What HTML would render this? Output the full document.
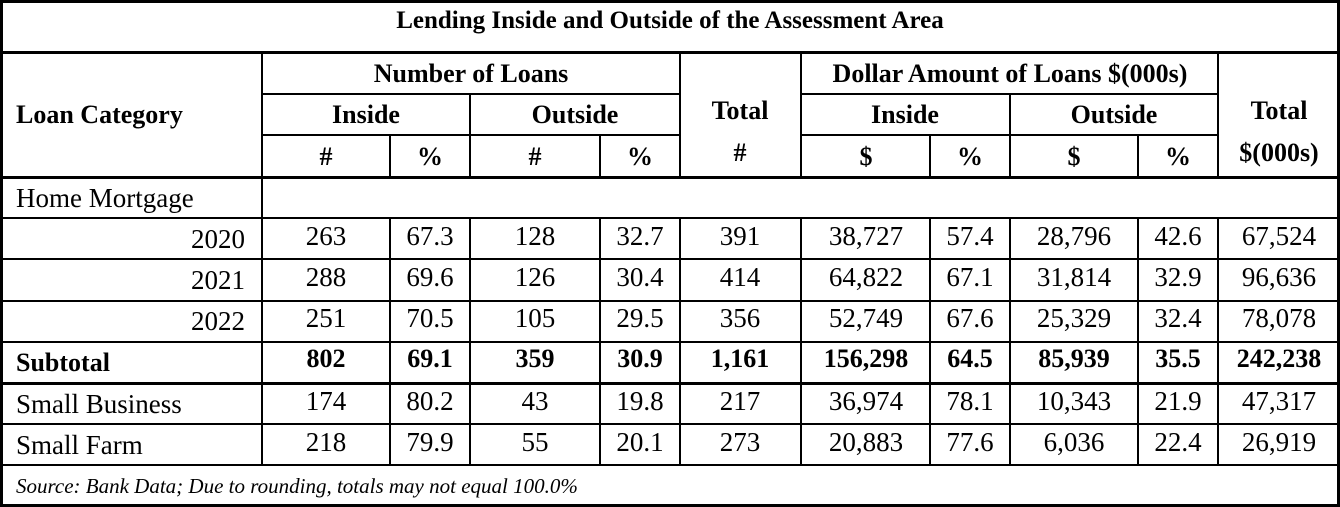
<!DOCTYPE html>
<html><head><meta charset="utf-8"><style>
html,body{margin:0;padding:0;background:#fff;}
body{width:1340px;height:507px;position:relative;overflow:hidden;font-family:"Liberation Serif","Times New Roman",serif;color:#000;}
.l{position:absolute;background:#000;}
.t{position:absolute;white-space:nowrap;font-size:27px;line-height:30px;font-family:"Liberation Serif","Times New Roman",serif;}
.c{transform:translateX(-50%);}
.r{transform:translateX(-100%);}
.b{font-weight:bold;font-size:26px;}
</style></head><body>
<!-- border -->
<div class="l" style="left:0;top:0;width:1340px;height:3px"></div>
<div class="l" style="left:0;top:504px;width:1340px;height:3px"></div>
<div class="l" style="left:0;top:0;width:3px;height:507px"></div>
<div class="l" style="left:1337px;top:0;width:3px;height:507px"></div>
<!-- horizontals -->
<div class="l" style="left:0;top:51px;width:1340px;height:3px"></div>
<div class="l" style="left:262px;top:93px;width:418px;height:2px"></div>
<div class="l" style="left:801px;top:93px;width:417px;height:2px"></div>
<div class="l" style="left:262px;top:134px;width:418px;height:2px"></div>
<div class="l" style="left:801px;top:134px;width:417px;height:2px"></div>
<div class="l" style="left:0;top:176px;width:1340px;height:3px"></div>
<div class="l" style="left:0;top:217px;width:1340px;height:2px"></div>
<div class="l" style="left:0;top:258px;width:1340px;height:2px"></div>
<div class="l" style="left:0;top:300px;width:1340px;height:2px"></div>
<div class="l" style="left:0;top:341px;width:1340px;height:2px"></div>
<div class="l" style="left:0;top:382px;width:1340px;height:3px"></div>
<div class="l" style="left:0;top:423px;width:1340px;height:2px"></div>
<div class="l" style="left:0;top:464px;width:1340px;height:2px"></div>
<!-- verticals -->
<div class="l" style="left:261px;top:52px;width:2px;height:413px"></div>
<div class="l" style="left:679px;top:52px;width:2px;height:125px"></div>
<div class="l" style="left:800px;top:52px;width:2px;height:125px"></div>
<div class="l" style="left:1217px;top:52px;width:2px;height:125px"></div>
<div class="l" style="left:469px;top:94px;width:2px;height:83px"></div>
<div class="l" style="left:1009px;top:94px;width:2px;height:83px"></div>
<div class="l" style="left:389px;top:135px;width:2px;height:42px"></div>
<div class="l" style="left:599px;top:135px;width:2px;height:42px"></div>
<div class="l" style="left:929px;top:135px;width:2px;height:42px"></div>
<div class="l" style="left:1137px;top:135px;width:2px;height:42px"></div>
<div class="l" style="left:389px;top:218px;width:2px;height:247px"></div>
<div class="l" style="left:469px;top:218px;width:2px;height:247px"></div>
<div class="l" style="left:599px;top:218px;width:2px;height:247px"></div>
<div class="l" style="left:679px;top:218px;width:2px;height:247px"></div>
<div class="l" style="left:800px;top:218px;width:2px;height:247px"></div>
<div class="l" style="left:929px;top:218px;width:2px;height:247px"></div>
<div class="l" style="left:1009px;top:218px;width:2px;height:247px"></div>
<div class="l" style="left:1137px;top:218px;width:2px;height:247px"></div>
<div class="l" style="left:1217px;top:218px;width:2px;height:247px"></div>

<div class="t c b" style="left:670px;top:6px;font-size:25px">Lending Inside and Outside of the Assessment Area</div>
<div class="t b" style="left:16px;top:100px">Loan Category</div>
<div class="t c b" style="left:471px;top:59px">Number of Loans</div>
<div class="t c b" style="left:366px;top:100px">Inside</div>
<div class="t c b" style="left:575px;top:100px">Outside</div>
<div class="t c b" style="left:740px;top:96px">Total</div>
<div class="t c b" style="left:740px;top:138px">#</div>
<div class="t c b" style="left:1010px;top:59px">Dollar Amount of Loans $(000s)</div>
<div class="t c b" style="left:905px;top:100px">Inside</div>
<div class="t c b" style="left:1114px;top:100px">Outside</div>
<div class="t c b" style="left:1279px;top:96px">Total</div>
<div class="t c b" style="left:1279px;top:138px">$(000s)</div>
<div class="t c b" style="left:326px;top:142px">#</div>
<div class="t c b" style="left:430px;top:142px">%</div>
<div class="t c b" style="left:535px;top:142px">#</div>
<div class="t c b" style="left:640px;top:142px">%</div>
<div class="t c b" style="left:866px;top:142px">$</div>
<div class="t c b" style="left:970px;top:142px">%</div>
<div class="t c b" style="left:1074px;top:142px">$</div>
<div class="t c b" style="left:1178px;top:142px">%</div>

<div class="t" style="left:16px;top:183px">Home Mortgage</div>

<div class="t r" style="left:245px;top:224px">2020</div>
<div class="t c" style="left:326px;top:221px">263</div><div class="t c" style="left:430px;top:221px">67.3</div><div class="t c" style="left:535px;top:221px">128</div><div class="t c" style="left:640px;top:221px">32.7</div><div class="t c" style="left:740px;top:221px">391</div><div class="t c" style="left:866px;top:221px">38,727</div><div class="t c" style="left:970px;top:221px">57.4</div><div class="t c" style="left:1074px;top:221px">28,796</div><div class="t c" style="left:1178px;top:221px">42.6</div><div class="t c" style="left:1279px;top:221px">67,524</div>

<div class="t r" style="left:245px;top:265px">2021</div>
<div class="t c" style="left:326px;top:262px">288</div><div class="t c" style="left:430px;top:262px">69.6</div><div class="t c" style="left:535px;top:262px">126</div><div class="t c" style="left:640px;top:262px">30.4</div><div class="t c" style="left:740px;top:262px">414</div><div class="t c" style="left:866px;top:262px">64,822</div><div class="t c" style="left:970px;top:262px">67.1</div><div class="t c" style="left:1074px;top:262px">31,814</div><div class="t c" style="left:1178px;top:262px">32.9</div><div class="t c" style="left:1279px;top:262px">96,636</div>

<div class="t r" style="left:245px;top:306px">2022</div>
<div class="t c" style="left:326px;top:303px">251</div><div class="t c" style="left:430px;top:303px">70.5</div><div class="t c" style="left:535px;top:303px">105</div><div class="t c" style="left:640px;top:303px">29.5</div><div class="t c" style="left:740px;top:303px">356</div><div class="t c" style="left:866px;top:303px">52,749</div><div class="t c" style="left:970px;top:303px">67.6</div><div class="t c" style="left:1074px;top:303px">25,329</div><div class="t c" style="left:1178px;top:303px">32.4</div><div class="t c" style="left:1279px;top:303px">78,078</div>

<div class="t b" style="left:16px;top:348px">Subtotal</div>
<div class="t c b" style="left:326px;top:344px">802</div><div class="t c b" style="left:430px;top:344px">69.1</div><div class="t c b" style="left:535px;top:344px">359</div><div class="t c b" style="left:640px;top:344px">30.9</div><div class="t c b" style="left:740px;top:344px">1,161</div><div class="t c b" style="left:866px;top:344px">156,298</div><div class="t c b" style="left:970px;top:344px">64.5</div><div class="t c b" style="left:1074px;top:344px">85,939</div><div class="t c b" style="left:1178px;top:344px">35.5</div><div class="t c b" style="left:1279px;top:344px">242,238</div>

<div class="t" style="left:16px;top:389px">Small Business</div>
<div class="t c" style="left:326px;top:386px">174</div><div class="t c" style="left:430px;top:386px">80.2</div><div class="t c" style="left:535px;top:386px">43</div><div class="t c" style="left:640px;top:386px">19.8</div><div class="t c" style="left:740px;top:386px">217</div><div class="t c" style="left:866px;top:386px">36,974</div><div class="t c" style="left:970px;top:386px">78.1</div><div class="t c" style="left:1074px;top:386px">10,343</div><div class="t c" style="left:1178px;top:386px">21.9</div><div class="t c" style="left:1279px;top:386px">47,317</div>

<div class="t" style="left:16px;top:430px">Small Farm</div>
<div class="t c" style="left:326px;top:427px">218</div><div class="t c" style="left:430px;top:427px">79.9</div><div class="t c" style="left:535px;top:427px">55</div><div class="t c" style="left:640px;top:427px">20.1</div><div class="t c" style="left:740px;top:427px">273</div><div class="t c" style="left:866px;top:427px">20,883</div><div class="t c" style="left:970px;top:427px">77.6</div><div class="t c" style="left:1074px;top:427px">6,036</div><div class="t c" style="left:1178px;top:427px">22.4</div><div class="t c" style="left:1279px;top:427px">26,919</div>

<div class="t" style="left:16px;top:474px;font-size:21px;line-height:24px;font-style:italic">Source: Bank Data; Due to rounding, totals may not equal 100.0%</div>
</body></html>
